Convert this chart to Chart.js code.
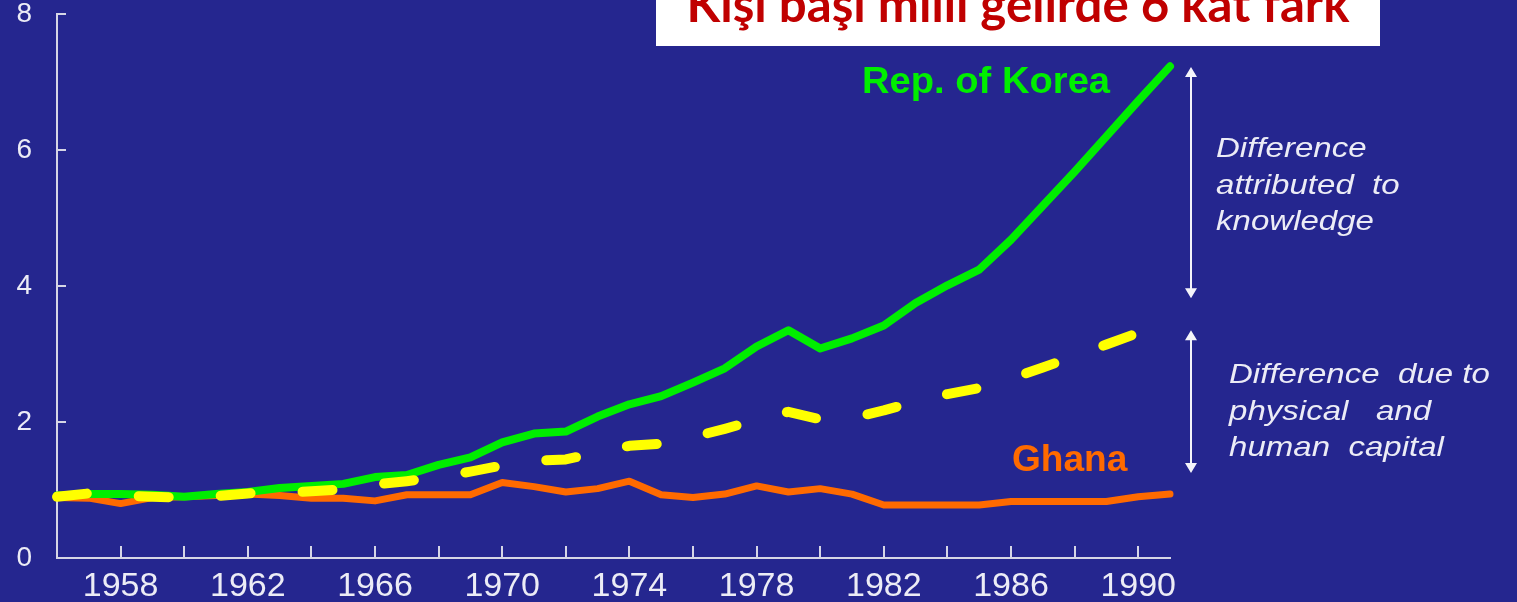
<!DOCTYPE html>
<html>
<head>
<meta charset="utf-8">
<script src="https://cdn.jsdelivr.net/npm/chart.js@4/dist/chart.umd.min.js"></script>
<style>
  html, body { margin: 0; padding: 0; background: #25268f; }
  #wrap { width: 1517px; height: 602px; position: relative; }
</style>
</head>
<body>
<div id="wrap"><canvas id="chart" width="1517" height="602"></canvas></div>
<script>
// values (GDP per capita, index)
const years = [1956, 1957, 1958, 1959, 1960, 1961, 1962, 1963, 1964, 1965, 1966, 1967,
  1968, 1969, 1970, 1971, 1972, 1973, 1974, 1975, 1976, 1977, 1978, 1979,
  1980, 1981, 1982, 1983, 1984, 1985, 1986, 1987, 1988, 1989, 1990, 1991];
const korea = [0.92, 0.94, 0.94, 0.93, 0.90, 0.94, 0.97, 1.03, 1.06, 1.09, 1.19, 1.22,
  1.37, 1.48, 1.70, 1.83, 1.86, 2.08, 2.26, 2.38, 2.58, 2.79, 3.11, 3.35,
  3.08, 3.23, 3.42, 3.75, 4.01, 4.24, 4.68, 5.18, 5.68, 6.20, 6.72, 7.23];
const ghana = [0.89, 0.88, 0.80, 0.89, 0.90, 0.92, 0.94, 0.92, 0.88, 0.88, 0.84, 0.93,
  0.93, 0.93, 1.11, 1.05, 0.97, 1.02, 1.13, 0.93, 0.89, 0.94, 1.06, 0.97,
  1.02, 0.94, 0.78, 0.78, 0.78, 0.78, 0.83, 0.83, 0.83, 0.83, 0.90, 0.94];
// Korea with physical & human capital only (dashed), ends 1990
const koreaCapital = [0.90, 0.95, 0.92, 0.90, 0.89, 0.91, 0.95, 0.96, 0.98, 1.01, 1.08, 1.13,
  1.19, 1.27, 1.36, 1.43, 1.45, 1.55, 1.65, 1.68, 1.78, 1.90, 2.03, 2.15,
  2.04, 2.06, 2.17, 2.30, 2.41, 2.50, 2.64, 2.80, 2.97, 3.14, 3.31];

const yTicks = [0, 2, 4, 6, 8];
const xTicks = [1958, 1960, 1962, 1964, 1966, 1968, 1970, 1972, 1974, 1976, 1978,
  1980, 1982, 1984, 1986, 1988, 1990];
const xLabels = [1958, 1962, 1966, 1970, 1974, 1978, 1982, 1986, 1990];

const title = "Kişi başı milli gelirde 6 kat fark";
const knowledgeText = ["Difference", "attributed  to", "knowledge"];
const capitalText = ["Difference  due to", "physical   and", "human  capital"];
const knowledgeSpan = [7.22, 3.82];
const capitalSpan = [3.35, 1.25];

const pts = (ys) => ys.map((v, i) => ({ x: years[i], y: v }));

const axisColor = "#d6d6e6";
const textColor = "#ececf6";

// inward tick marks on both axes
const tickMarks = {
  id: "tickMarks",
  afterDraw(chart) {
    const { ctx, chartArea, scales } = chart;
    ctx.save();
    ctx.strokeStyle = axisColor;
    ctx.lineWidth = 2;
    ctx.beginPath();
    xTicks.forEach(v => {
      const px = Math.round(scales.x.getPixelForValue(v));
      ctx.moveTo(px, chartArea.bottom);
      ctx.lineTo(px, chartArea.bottom - 12);
    });
    yTicks.slice(1).forEach(v => {
      const py = Math.round(scales.y.getPixelForValue(v));
      ctx.moveTo(chartArea.left, py);
      ctx.lineTo(chartArea.left + 9, py);
    });
    ctx.stroke();
    ctx.restore();
  }
};

function drawText(ctx, str, x, y, font, color, sx) {
  ctx.save();
  ctx.font = font;
  ctx.fillStyle = color;
  ctx.textBaseline = "alphabetic";
  ctx.translate(x, y);
  ctx.scale(sx || 1, 1);
  ctx.fillText(str, 0, 0);
  ctx.restore();
}

function arrow(ctx, x, y1, y2) {
  ctx.save();
  ctx.strokeStyle = "#f4f4fa";
  ctx.fillStyle = "#f4f4fa";
  ctx.lineWidth = 2;
  ctx.beginPath();
  ctx.moveTo(x, y1 + 6);
  ctx.lineTo(x, y2 - 6);
  ctx.stroke();
  ctx.beginPath();
  ctx.moveTo(x, y1); ctx.lineTo(x - 6, y1 + 10); ctx.lineTo(x + 6, y1 + 10); ctx.closePath();
  ctx.moveTo(x, y2); ctx.lineTo(x - 6, y2 - 10); ctx.lineTo(x + 6, y2 - 10); ctx.closePath();
  ctx.fill();
  ctx.restore();
}

const annotations = {
  id: "annotations",
  afterDraw(chart) {
    const { ctx, chartArea, scales } = chart;
    const ax = chartArea.right + 21;
    arrow(ctx, ax, scales.y.getPixelForValue(knowledgeSpan[0]), scales.y.getPixelForValue(knowledgeSpan[1]));
    arrow(ctx, ax, scales.y.getPixelForValue(capitalSpan[0]), scales.y.getPixelForValue(capitalSpan[1]));

    const ital = "italic 28px 'Liberation Sans', Arial, sans-serif";
    knowledgeText.forEach((t, i) => drawText(ctx, t, 1216, 157 + i * 36.5, ital, textColor, 1.18));
    capitalText.forEach((t, i) => drawText(ctx, t, 1229, 383 + i * 36.5, ital, textColor, 1.18));

    drawText(ctx, "Rep. of Korea", 862, 93, "bold 36px 'Liberation Sans', Arial, sans-serif", "#00ee00", 1.06);
    drawText(ctx, "Ghana", 1012, 471, "bold 36px 'Liberation Sans', Arial, sans-serif", "#ff6a00", 1.03);

    // title box
    ctx.save();
    ctx.fillStyle = "#ffffff";
    ctx.fillRect(656, 0, 724, 46);
    ctx.font = "bold 100px Lato, 'Open Sans', sans-serif";
    const w = ctx.measureText(title).width;
    const size = 100 * 663 / w;
    ctx.font = "bold " + size.toFixed(1) + "px Lato, 'Open Sans', sans-serif";
    ctx.fillStyle = "#c00000";
    ctx.textAlign = "center";
    ctx.textBaseline = "alphabetic";
    ctx.fillText(title, 1018, 22);
    ctx.restore();
  }
};

new Chart(document.getElementById("chart"), {
  type: "line",
  data: {
    datasets: [
      {
        label: "Korea (capital)",
        data: pts(koreaCapital),
        borderColor: "#ffff00",
        borderWidth: 10,
        borderDash: [30, 52],
        borderCapStyle: "round",
        borderJoinStyle: "round",
        pointRadius: 0,
        tension: 0,
        order: 0,
        clip: false
      },
      {
        label: "Rep. of Korea",
        data: pts(korea),
        borderColor: "#00ee00",
        borderWidth: 8,
        borderCapStyle: "round",
        borderJoinStyle: "round",
        pointRadius: 0,
        tension: 0,
        order: 1,
        clip: false
      },
      {
        label: "Ghana",
        data: pts(ghana),
        borderColor: "#ff6a00",
        borderWidth: 7,
        borderCapStyle: "round",
        borderJoinStyle: "round",
        pointRadius: 0,
        tension: 0,
        order: 2,
        clip: false
      }
    ]
  },
  options: {
    responsive: false,
    animation: false,
    events: [],
    layout: { padding: { top: 14, right: 347, left: 0, bottom: 0 } },
    plugins: { legend: { display: false }, tooltip: { enabled: false } },
    scales: {
      x: {
        type: "linear",
        min: 1956,
        max: 1991,
        afterBuildTicks: (s) => { s.ticks = xTicks.map(v => ({ value: v })); },
        afterFit: (s) => { s.height = 44; s.paddingLeft = 0; s.paddingRight = 0; },
        grid: { drawOnChartArea: false, drawTicks: false },
        border: { display: true, color: axisColor, width: 2 },
        ticks: {
          autoSkip: false,
          maxRotation: 0,
          padding: 8,
          color: textColor,
          font: { family: "'Liberation Sans', Arial, sans-serif", size: 34 },
          callback: (v) => xLabels.includes(v) ? String(v) : ""
        }
      },
      y: {
        min: 0,
        max: 8,
        afterBuildTicks: (s) => { s.ticks = yTicks.map(v => ({ value: v })); },
        afterFit: (s) => { s.width = 57; s.paddingTop = 0; s.paddingBottom = 0; },
        grid: { drawOnChartArea: false, drawTicks: false },
        border: { display: true, color: axisColor, width: 2 },
        ticks: {
          padding: 25,
          color: textColor,
          font: { family: "'Liberation Sans', Arial, sans-serif", size: 28 }
        }
      }
    }
  },
  plugins: [tickMarks, annotations]
});
</script>
</body>
</html>
